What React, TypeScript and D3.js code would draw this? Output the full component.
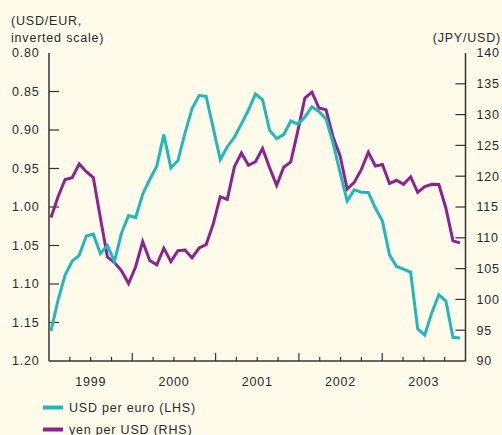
import React from "react";
import * as d3 from "d3";

// Monthly data, Jan 1999 – Nov 2003
const usdPerEuro: number[] = [
  1.1608, 1.1208, 1.0883, 1.0704, 1.0628, 1.0378, 1.0353, 1.0604, 1.0501, 1.0706, 1.0338, 1.011,
  1.0137, 0.9834, 0.9643, 0.947, 0.906, 0.9492, 0.9397, 0.9041, 0.8721, 0.8552, 0.8564, 0.8973,
  0.9383, 0.9217, 0.9095, 0.892, 0.8742, 0.8532, 0.8607, 0.9005, 0.9111, 0.9059, 0.8883, 0.8924,
  0.8833, 0.87, 0.8758, 0.8858, 0.917, 0.9554, 0.9922, 0.9778, 0.9808, 0.9811, 1.0014, 1.0183,
  1.0622, 1.0773, 1.0807, 1.0848, 1.1582, 1.1663, 1.1372, 1.1139, 1.1222, 1.1692, 1.1702,
];
const yenPerUsd: number[] = [
  113.29, 116.66, 119.47, 119.77, 122.0, 120.72, 119.78, 113.24, 106.88, 105.97, 104.65, 102.58,
  105.3, 109.39, 106.31, 105.63, 108.32, 106.13, 107.9, 108.02, 106.75, 108.34, 108.9, 112.21,
  116.67, 116.23, 121.51, 123.77, 121.77, 122.35, 124.5, 121.37, 118.52, 121.45, 122.32, 127.36,
  132.69, 133.64, 131.06, 130.77, 126.37, 123.29, 117.9, 118.99, 121.06, 123.89, 121.65, 121.89,
  118.81, 119.34, 118.69, 119.9, 117.37, 118.33, 118.7, 118.66, 114.8, 109.5, 109.18,
];
const years: number[] = [1999, 2000, 2001, 2002, 2003];
const leftTicks: number[] = [0.8, 0.85, 0.9, 0.95, 1.0, 1.05, 1.1, 1.15, 1.2];
const rightTicks: number[] = [140, 135, 130, 125, 120, 115, 110, 105, 100, 95, 90];
const seriesNames: string[] = ["USD per euro (LHS)", "yen per USD (RHS)"];

const BG = "#fefbea";
const CYAN = "#22b8ba";
const PURPLE = "#8b2390";
const TEXT = "#2a2a2a";
const AXIS = "#333";

const FONT = {
  fontFamily: "'Liberation Sans', Arial, sans-serif",
  fontSize: 12.5,
  letterSpacing: 0.8,
  fill: TEXT,
};

export default function App() {
  const W = 502;
  const H = 435;
  const left = 49;
  const right = 465.5;
  const top = 53;
  const bottom = 361;

  const xIdx = d3.scaleLinear().domain([0, 58]).range([51, 460]);
  const xYear = d3.scaleLinear().domain([1999, 2004]).range([left, right]);
  const yL = d3.scaleLinear().domain([0.8, 1.2]).range([top, bottom]);
  const yR = d3.scaleLinear().domain([140, 90]).range([top, bottom]);

  const lineL = d3
    .line<number>()
    .x((_, i) => xIdx(i))
    .y((d) => yL(d));
  const lineR = d3
    .line<number>()
    .x((_, i) => xIdx(i))
    .y((d) => yR(d));

  const quarterTicks: { v: number; major: boolean }[] = [];
  for (let y = 1999; y <= 2004; y++) {
    for (let q = 0; q < 4; q++) {
      const v = y + q / 4;
      if (v > 2004) break;
      quarterTicks.push({ v, major: q === 0 });
    }
  }

  return (
    <svg
      width={W}
      height={H}
      style={{ position: "absolute", left: 0, top: 0, background: BG }}
    >
      <rect x={0} y={0} width={W} height={H} fill={BG} />

      {/* axis titles */}
      <text x={11} y={25} style={FONT}>(USD/EUR,</text>
      <text x={11} y={42} style={FONT}>inverted scale)</text>
      <text x={501} y={42} textAnchor="end" style={FONT}>(JPY/USD)</text>

      {/* left axis */}
      <line x1={left} x2={left} y1={top} y2={bottom} stroke={AXIS} strokeWidth={1.5} />
      {leftTicks.map((t) => (
        <g key={"l" + t}>
          {t > 0.8 && t < 1.2 && (
            <line x1={left} x2={left + 10} y1={yL(t)} y2={yL(t)} stroke={AXIS} strokeWidth={1.2} />
          )}
          <text x={39.5} y={yL(t)} dy="0.35em" textAnchor="end" style={FONT}>
            {t.toFixed(2)}
          </text>
        </g>
      ))}

      {/* right axis */}
      <line x1={right} x2={right} y1={top} y2={bottom} stroke={AXIS} strokeWidth={1.5} />
      {rightTicks.map((t) => (
        <g key={"r" + t}>
          {t < 140 && t > 90 && (
            <line x1={right - 10} x2={right} y1={yR(t)} y2={yR(t)} stroke={AXIS} strokeWidth={1.2} />
          )}
          <text x={476.5} y={yR(t)} dy="0.35em" style={FONT}>
            {t}
          </text>
        </g>
      ))}

      {/* bottom axis */}
      <line x1={left} x2={right} y1={bottom} y2={bottom} stroke={AXIS} strokeWidth={1.5} />
      {quarterTicks
        .filter((q) => q.v > 1999 && q.v < 2004)
        .map((q) => (
          <line
            key={"q" + q.v}
            x1={xYear(q.v)}
            x2={xYear(q.v)}
            y1={bottom}
            y2={bottom - (q.major ? 8 : 4)}
            stroke={AXIS}
            strokeWidth={1.2}
          />
        ))}
      {years.map((y) => (
        <text key={"y" + y} x={xYear(y + 0.5)} y={386} textAnchor="middle" style={FONT}>
          {y}
        </text>
      ))}

      {/* series */}
      <path d={lineR(yenPerUsd) || ""} fill="none" stroke={PURPLE} strokeWidth={3} strokeLinejoin="miter" />
      <path d={lineL(usdPerEuro) || ""} fill="none" stroke={CYAN} strokeWidth={3} strokeLinejoin="miter" />

      {/* legend */}
      <line x1={43} x2={63} y1={407.5} y2={407.5} stroke={CYAN} strokeWidth={4} />
      <text x={69} y={412} style={FONT}>{seriesNames[0]}</text>
      <line x1={43} x2={63} y1={429.5} y2={429.5} stroke={PURPLE} strokeWidth={4} />
      <text x={69} y={434} style={FONT}>{seriesNames[1]}</text>
    </svg>
  );
}
